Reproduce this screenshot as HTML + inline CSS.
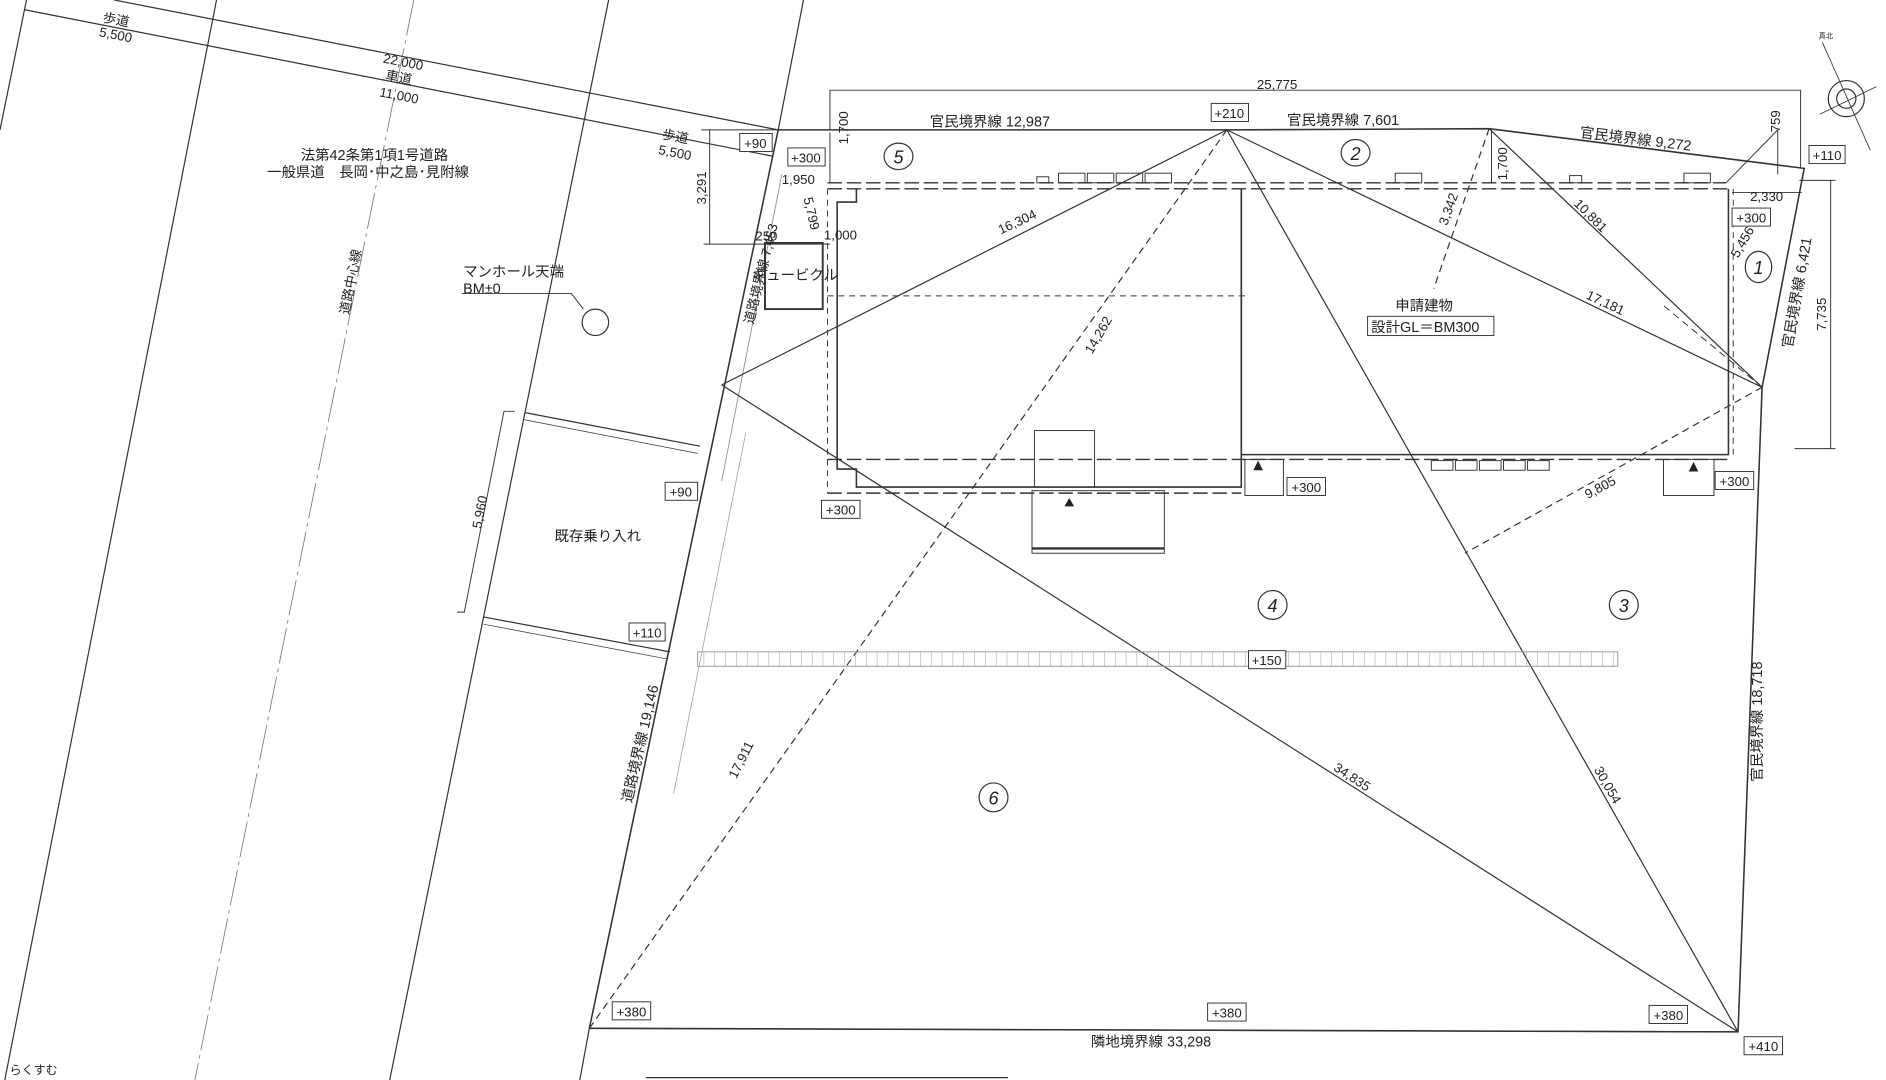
<!DOCTYPE html>
<html><head><meta charset="utf-8"><style>
html,body{margin:0;padding:0;background:#fff;}
svg{display:block}
text{font-family:"Liberation Sans","Noto Sans CJK JP",sans-serif;fill:#222;}
</style></head><body>
<svg width="1886" height="1080" viewBox="0 0 1568 898" preserveAspectRatio="none" xmlns="http://www.w3.org/2000/svg">
<defs>
<pattern id="hatch" width="9" height="14" patternUnits="userSpaceOnUse"><line x1="0" y1="0" x2="0" y2="14" stroke="#999" stroke-width="0.8"/></pattern>
</defs>
<rect width="1568" height="898" fill="#fff"/>
<g stroke="#333" stroke-width="1" fill="none">
<line x1="0" y1="108" x2="22" y2="0"/>
<line x1="180" y1="0" x2="4" y2="898"/>
<line x1="344" y1="0" x2="162" y2="898" stroke="#777" stroke-width="0.7" stroke-dasharray="30,4,3,4"/>
<line x1="506" y1="0" x2="324" y2="898"/>
<line x1="668" y1="0" x2="647" y2="108"/>
<line x1="95" y1="0" x2="647" y2="108"/>
<line x1="20" y1="8" x2="643" y2="130"/>
<polyline points="647,108 1020,108 1238,107 1500,140 1465,322 1445,858 490,855 647,108" stroke-width="1.3"/>
<line x1="490" y1="855" x2="482" y2="898"/>
<line x1="650" y1="145" x2="600" y2="400" stroke="#888" stroke-width="0.7"/>
<line x1="620" y1="360" x2="560" y2="660" stroke="#999" stroke-width="0.6"/>
<line x1="1020" y1="108" x2="600" y2="320"/>
<line x1="1020" y1="108" x2="1465" y2="322"/>
<line x1="1020" y1="108" x2="1445" y2="858"/>
<line x1="600" y1="320" x2="1445" y2="858"/>
<line x1="1238" y1="107" x2="1465" y2="322"/>
<line x1="490" y1="855" x2="1445" y2="858"/>
<g stroke-dasharray="6,4">
<line x1="1020" y1="108" x2="490" y2="855"/>
<line x1="1465" y1="322" x2="1218" y2="460"/>
<line x1="1238" y1="107" x2="1192" y2="240"/>
<line x1="1465" y1="322" x2="1383" y2="254" stroke-width="0.8"/>
</g>
<polyline points="690,108 690,75 1497,75 1497,140" stroke-width="0.8"/>
<line x1="583" y1="108" x2="647" y2="108" stroke-width="0.8"/>
<line x1="590" y1="108" x2="590" y2="203" stroke-width="0.8"/>
<line x1="585" y1="203" x2="690" y2="203" stroke-width="0.8"/>
<line x1="1496" y1="150" x2="1526" y2="150" stroke-width="0.8"/>
<line x1="1522" y1="150" x2="1522" y2="373" stroke-width="0.8"/>
<line x1="1492" y1="373" x2="1526" y2="373" stroke-width="0.8"/>
<line x1="1440" y1="160" x2="1498" y2="160" stroke-width="0.8"/>
<line x1="1435" y1="152" x2="1478" y2="108" stroke-width="0.8"/>
<line x1="1478" y1="108" x2="1478" y2="145" stroke-width="0.8"/>
<line x1="1240" y1="108" x2="1240" y2="152" stroke-width="0.8"/>
<line x1="690" y1="110" x2="690" y2="152" stroke-width="0.8"/>
<g stroke-dasharray="12,4" stroke-width="1.2">
<line x1="688" y1="152" x2="1435" y2="152"/>
<line x1="688" y1="157" x2="1437" y2="157"/>
<line x1="688" y1="382" x2="1440" y2="382"/>
<line x1="688" y1="410" x2="1032" y2="410"/>
</g>
<g stroke-dasharray="5,4" stroke-width="0.8">
<line x1="688" y1="246" x2="1035" y2="246"/>
<line x1="688" y1="157" x2="688" y2="410"/>
<line x1="1441" y1="157" x2="1441" y2="382"/>
</g>
<polyline points="712,157 712,168 696,168 696,390 712,390 712,405 1032,405 1032,157" stroke-width="1.3"/>
<polyline points="1032,157 1032,378 1437,378 1437,157" stroke-width="1.3"/>
<rect x="860" y="358" width="50" height="47" stroke-width="0.8"/>
<rect x="858" y="408" width="110" height="52" stroke-width="0.8"/>
<line x1="858" y1="456" x2="968" y2="456" stroke-width="2"/>
<rect x="1035" y="382" width="32" height="30" stroke-width="0.8"/>
<rect x="1383" y="382" width="42" height="30" stroke-width="0.8"/>
<rect x="636" y="202" width="48" height="55" stroke-width="1.6"/>
<g stroke-width="0.8">
<rect x="880" y="144" width="22" height="8"/><rect x="904" y="144" width="22" height="8"/><rect x="928" y="144" width="22" height="8"/><rect x="952" y="144" width="22" height="8"/>
<rect x="862" y="147" width="10" height="5"/><rect x="1160" y="144" width="22" height="8"/><rect x="1305" y="146" width="10" height="6"/><rect x="1400" y="144" width="22" height="8"/>
<rect x="1190" y="383" width="18" height="8"/><rect x="1210" y="383" width="18" height="8"/><rect x="1230" y="383" width="18" height="8"/><rect x="1250" y="383" width="18" height="8"/><rect x="1270" y="383" width="18" height="8"/>
</g>
<rect x="580" y="542" width="765" height="12" fill="url(#hatch)" stroke="#999" stroke-width="0.8"/>
<line x1="436" y1="343" x2="582" y2="371"/>
<line x1="436" y1="349" x2="580" y2="377" stroke-width="0.6"/>
<line x1="402" y1="513" x2="557" y2="542"/>
<line x1="402" y1="519" x2="555" y2="548" stroke-width="0.6"/>
<polyline points="428,342 419,342 386,509 380,509" stroke-width="0.8"/>
<circle cx="495" cy="268" r="11"/>
<polyline points="384,244 475,244 485,257" stroke-width="0.8"/>
<circle cx="1535" cy="82" r="15"/>
<circle cx="1535" cy="82" r="8"/>
<line x1="1515" y1="35" x2="1555" y2="125" stroke-width="0.7"/>
<line x1="1513" y1="95" x2="1560" y2="72" stroke-width="0.7"/>
<ellipse cx="747" cy="130" rx="12" ry="11"/><ellipse cx="1127" cy="127" rx="12" ry="11"/>
<ellipse cx="1462" cy="222" rx="11" ry="13"/><ellipse cx="1058" cy="503" rx="12" ry="12"/>
<ellipse cx="1350" cy="503" rx="12" ry="12"/><ellipse cx="826" cy="663" rx="12" ry="12"/>
<line x1="537" y1="896" x2="838" y2="896"/>
</g>
<g fill="#222" stroke="none">
<polygon points="889,414 885,421 893,421"/><polygon points="1046,383 1042,391 1050,391"/><polygon points="1408,384 1404,392 1412,392"/>
</g>
<g font-size="15" font-style="italic" text-anchor="middle">
<text x="747" y="136">5</text><text x="1127" y="133">2</text><text x="1462" y="228">1</text>
<text x="1058" y="509">4</text><text x="1350" y="509">3</text><text x="826" y="669">6</text>
</g>
<g font-size="11" text-anchor="middle">
<g stroke="#333" stroke-width="0.8" fill="#fff">
<rect x="615" y="111" width="27" height="15"/><rect x="655" y="123" width="31" height="15"/><rect x="1007" y="86" width="31" height="15"/>
<rect x="1504" y="121" width="30" height="15"/><rect x="1440" y="173" width="32" height="15"/><rect x="553" y="401" width="27" height="15"/>
<rect x="683" y="416" width="32" height="15"/><rect x="1070" y="397" width="32" height="15"/><rect x="1426" y="392" width="32" height="15"/>
<rect x="523" y="518" width="30" height="15"/><rect x="1038" y="541" width="31" height="15"/><rect x="509" y="833" width="32" height="15"/>
<rect x="1004" y="834" width="32" height="15"/><rect x="1371" y="836" width="32" height="15"/><rect x="1450" y="862" width="32" height="15"/>
</g>
<text x="628" y="123">+90</text><text x="670" y="135">+300</text><text x="1022" y="98">+210</text>
<text x="1519" y="133">+110</text><text x="1456" y="185">+300</text><text x="566" y="413">+90</text>
<text x="699" y="428">+300</text><text x="1086" y="409">+300</text><text x="1442" y="404">+300</text>
<text x="538" y="530">+110</text><text x="1053" y="553">+150</text><text x="525" y="845">+380</text>
<text x="1020" y="846">+380</text><text x="1387" y="848">+380</text><text x="1466" y="874">+410</text>
</g>
<g font-size="11">
<text x="85" y="18" transform="rotate(11 85 18)">歩道</text>
<text x="82" y="30" transform="rotate(11 82 30)">5,500</text>
<text x="318" y="52" transform="rotate(11 318 52)">22,000</text>
<text x="320" y="66" transform="rotate(11 320 66)">車道</text>
<text x="315" y="80" transform="rotate(11 315 80)">11,000</text>
<text x="550" y="115" transform="rotate(11 550 115)">歩道</text>
<text x="547" y="128" transform="rotate(11 547 128)">5,500</text>
<text x="250" y="133" font-size="12">法第42条第1項1号道路</text>
<text x="222" y="147" font-size="12">一般県道　長岡･中之島･見附線</text>
<text x="290" y="262" transform="rotate(-79 290 262)">道路中心線</text>
<text x="385" y="230" font-size="12">マンホール天端</text>
<text x="385" y="244" font-size="12">BM±0</text>
<text x="461" y="450" font-size="12">既存乗り入れ</text>
<text x="400" y="440" transform="rotate(-79 400 440)">5,960</text>
<text x="587" y="170" transform="rotate(-90 587 170)">3,291</text>
<text x="626" y="270" transform="rotate(-76 626 270)">道路境界線 7,453</text>
<text x="625" y="233" font-size="12">キュービクル</text>
<text x="650" y="153">1,950</text>
<text x="628" y="200">250</text>
<text x="685" y="199">1,000</text>
<text x="668" y="165" transform="rotate(77 668 165)">5,799</text>
<text x="705" y="120" transform="rotate(-90 705 120)">1,700</text>
<text x="773" y="105" font-size="12">官民境界線 12,987</text>
<text x="1070" y="104" font-size="12">官民境界線 7,601</text>
<text x="1313" y="114" font-size="12" transform="rotate(7 1313 114)">官民境界線 9,272</text>
<text x="1045" y="74">25,775</text>
<text x="1253" y="150" transform="rotate(-90 1253 150)">1,700</text>
<text x="1480" y="110" transform="rotate(-90 1480 110)">759</text>
<text x="1455" y="167">2,330</text>
<text x="1445" y="215" transform="rotate(-60 1445 215)">5,456</text>
<text x="1490" y="290" font-size="12" transform="rotate(-80 1490 290)">官民境界線 6,421</text>
<text x="1518" y="275" transform="rotate(-90 1518 275)">7,735</text>
<text x="1160" y="258" font-size="12">申請建物</text>
<rect x="1137" y="263" width="105" height="16" fill="none" stroke="#333" stroke-width="0.8"/>
<text x="1140" y="276" font-size="12">設計GL＝BM300</text>
<text x="832" y="195" transform="rotate(-25 832 195)">16,304</text>
<text x="908" y="295" transform="rotate(-60 908 295)">14,262</text>
<text x="1203" y="188" transform="rotate(-70 1203 188)">3,342</text>
<text x="1308" y="170" transform="rotate(45 1308 170)">10,881</text>
<text x="1318" y="248" transform="rotate(25 1318 248)">17,181</text>
<text x="1320" y="415" transform="rotate(-28 1320 415)">9,805</text>
<text x="1108" y="640" transform="rotate(33 1108 640)">34,835</text>
<text x="1325" y="640" transform="rotate(60 1325 640)">30,054</text>
<text x="612" y="648" transform="rotate(-63 612 648)">17,911</text>
<text x="525" y="668" font-size="12" transform="rotate(-77 525 668)">道路境界線 19,146</text>
<text x="1465" y="650" font-size="12" transform="rotate(-90 1465 650)">官民境界線 18,718</text>
<text x="907" y="870" font-size="12">隣地境界線 33,298</text>
<text x="1512" y="32" font-size="6">真北</text>
<text x="8" y="893" font-size="10">らくすむ</text>
</g>
</svg>
</body></html>
